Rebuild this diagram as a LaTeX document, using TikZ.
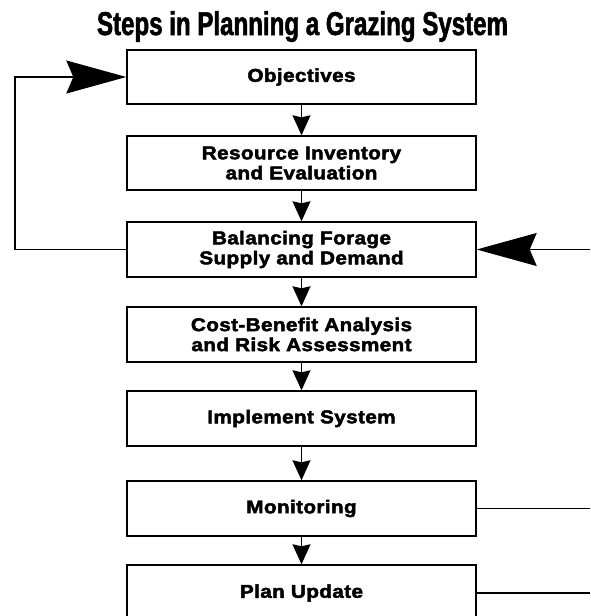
\documentclass[tikz,border=0pt]{standalone}
\usepackage{fontspec}
\usetikzlibrary{arrows.meta}
\newfontfamily\boxfont[FakeStretch=1.12,LetterSpace=2,FakeBold=2.5]{Liberation Sans Bold}
\newfontfamily\titlefont[FakeStretch=0.73,FakeBold=1.6]{Liberation Sans Bold}
\begin{document}
\begin{tikzpicture}[x=1pt,y=-1pt,
  stepbox/.style={draw=black, line width=1.4pt, fill=white, minimum width=349pt,
    minimum height=54pt, inner sep=0pt, align=center,
    font=\boxfont\fontsize{18.5pt}{20pt}\selectfont},
  smallarrow/.style={line width=1.3pt, -{Stealth[length=20pt,width=18pt,inset=2pt]}},
  bigarrow/.style={line width=1.3pt, -{Stealth[length=60pt,width=33pt,inset=7pt]}},
  plainline/.style={line width=1.1pt}]
\clip (0,0) rectangle (590,616);
\fill[white] (0,0) rectangle (590,616);
\node[font=\titlefont\fontsize{33pt}{36pt}\selectfont, anchor=base] (title) at (302.5,35) {Steps in Planning a Grazing System};
\node[stepbox] (obj)  at (301.5,77)    {Objectives};
\node[stepbox] (res)  at (301.5,163)   {Resource Inventory\\and Evaluation};
\node[stepbox, minimum height=55pt] (bal)  at (301.5,249.5) {Balancing Forage\\Supply and Demand};
\node[stepbox, minimum height=55pt] (cba)  at (301.5,334.5) {Cost-Benefit Analysis\\and Risk Assessment};
\node[stepbox, minimum height=55pt] (imp)  at (301.5,418.5) {Implement System};
\node[stepbox, minimum height=55pt] (mon)  at (301.5,508.5) {Monitoring};
\node[stepbox, minimum height=56pt] (plan) at (301.5,593)   {Plan Update};
\draw[smallarrow] (obj) -- (res);
\draw[smallarrow] (res) -- (bal);
\draw[smallarrow] (bal) -- (cba);
\draw[smallarrow] (cba) -- (imp);
\draw[smallarrow] (imp) -- (mon);
\draw[smallarrow] (mon) -- (plan);
\coordinate (fb) at (15,160);
\draw[bigarrow] (bal.west) -| (fb) |- (obj.west);
\coordinate (rin) at (590,249.5);
\draw[bigarrow] (rin) -- (bal.east);
\coordinate (mout) at (590,508.5);
\draw[plainline] (mon.east) -- (mout);
\coordinate (pout) at (590,593);
\draw[plainline] (plan.east) -- (pout);
\end{tikzpicture}
\end{document}
